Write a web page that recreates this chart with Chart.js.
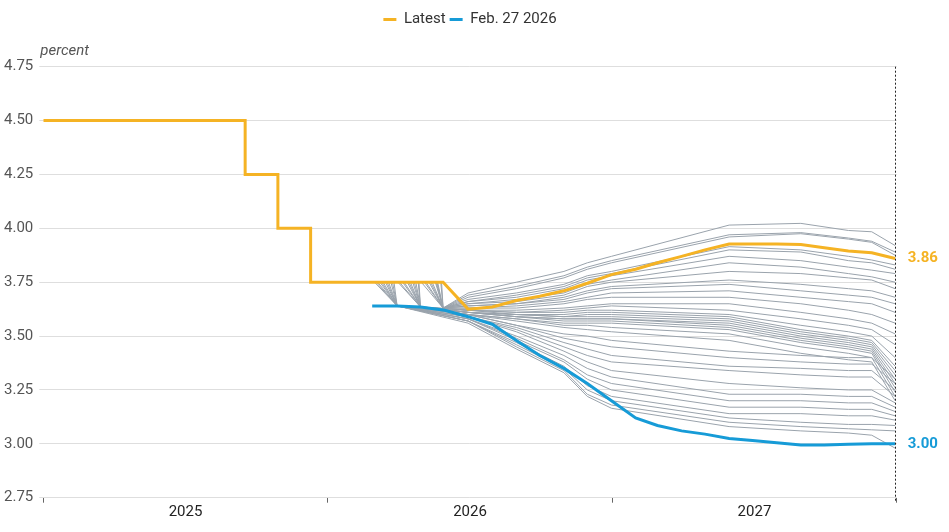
<!DOCTYPE html>
<html lang="en">
<head>
  <meta charset="UTF-8">
  <title>Fed funds rate: latest path vs. earlier market forecasts</title>
  <style>
    html, body { margin: 0; padding: 0; background: #ffffff; }
    .chart-box { position: relative; width: 949px; height: 532px; }
  </style>
</head>
<body>
  <div class="chart-box"><canvas id="rateChart"></canvas></div>

  <script src="https://cdn.jsdelivr.net/npm/chart.js"></script>
  <script>
    // Policy rate (upper bound) decisions
    const rateDates = ['2025-01-01', '2025-09-17', '2025-10-29', '2025-12-10'];
    const rateValues = [4.50, 4.25, 4.00, 3.75];
    const latestAsOf = '2026-05-29';

    // Month-end forecast dates
    const monthEnds = [
      '2026-03-31', '2026-04-30', '2026-05-31', '2026-06-30', '2026-07-31', '2026-08-31',
      '2026-09-30', '2026-10-31', '2026-11-30', '2026-12-31', '2027-01-31', '2027-02-28',
      '2027-03-31', '2027-04-30', '2027-05-31', '2027-06-30', '2027-07-31', '2027-08-31',
      '2027-09-30', '2027-10-31', '2027-11-30', '2027-12-30'
    ];

    // "Latest" forecast, Jun 2026 - Dec 2027
    const latestForecast = [3.625, 3.635, 3.665, 3.685, 3.71, 3.745, 3.785,
      3.81, 3.84, 3.87, 3.90, 3.927, 3.927, 3.927, 3.925, 3.91, 3.895, 3.887, 3.86];

    // Feb. 27 2026 forecast
    const febStart = '2026-02-27';
    const febValues = [3.64, 3.64, 3.635, 3.62, 3.59, 3.555, 3.48, 3.41, 3.35, 3.28, 3.20,
      3.12, 3.085, 3.06, 3.045, 3.025, 3.015, 3.005, 2.995, 2.995, 2.998, 3.00, 3.00];

    // Daily forecasts in between (grey)
    const greyStarts = [
      '2026-05-27', '2026-05-26', '2026-05-22', '2026-05-21', '2026-05-20', '2026-05-19',
      '2026-05-15', '2026-05-13', '2026-05-11', '2026-05-07', '2026-05-05', '2026-05-01',
      '2026-04-28', '2026-04-27', '2026-04-24', '2026-04-22', '2026-04-20', '2026-04-17',
      '2026-04-15', '2026-04-13', '2026-04-09', '2026-04-07', '2026-04-03', '2026-04-01',
      '2026-03-27', '2026-03-25', '2026-03-23', '2026-03-20', '2026-03-18', '2026-03-16',
      '2026-03-13', '2026-03-11', '2026-03-09', '2026-03-06', '2026-03-04', '2026-03-02'
    ];
    const greyFirst = ['2026-05-29', '2026-04-30', '2026-03-31']; // by start month: May, Apr, Mar
    const greyDates = ['2026-06-30', '2026-08-31', '2026-10-31', '2026-11-30', '2026-12-31',
      '2027-05-31', '2027-08-31', '2027-10-31', '2027-11-30', '2027-12-30'];
    const greyValues = [
      [3.63, 3.70, 3.75, 3.80, 3.84, 3.87, 4.015, 4.023, 3.99, 3.984, 3.92],
      [3.63, 3.69, 3.73, 3.78, 3.82, 3.85, 3.97, 3.98, 3.955, 3.94, 3.89],
      [3.63, 3.68, 3.72, 3.77, 3.81, 3.84, 3.96, 3.975, 3.95, 3.935, 3.875],
      [3.63, 3.67, 3.70, 3.74, 3.78, 3.80, 3.915, 3.90, 3.87, 3.853, 3.83],
      [3.63, 3.66, 3.69, 3.73, 3.77, 3.79, 3.90, 3.89, 3.85, 3.84, 3.81],
      [3.63, 3.66, 3.68, 3.72, 3.76, 3.78, 3.87, 3.85, 3.82, 3.806, 3.79],
      [3.63, 3.65, 3.67, 3.70, 3.74, 3.76, 3.84, 3.82, 3.79, 3.775, 3.75],
      [3.63, 3.65, 3.66, 3.69, 3.73, 3.75, 3.80, 3.79, 3.77, 3.76, 3.72],
      [3.63, 3.64, 3.65, 3.68, 3.71, 3.73, 3.76, 3.74, 3.72, 3.71, 3.68],
      [3.63, 3.64, 3.65, 3.67, 3.70, 3.72, 3.74, 3.71, 3.69, 3.68, 3.65],
      [3.63, 3.63, 3.64, 3.66, 3.68, 3.70, 3.71, 3.68, 3.66, 3.65, 3.61],
      [3.63, 3.63, 3.63, 3.65, 3.67, 3.68, 3.68, 3.65, 3.62, 3.60, 3.56],
      [3.635, 3.62, 3.62, 3.63, 3.64, 3.65, 3.65, 3.61, 3.58, 3.56, 3.51],
      [3.635, 3.62, 3.61, 3.62, 3.63, 3.64, 3.62, 3.58, 3.55, 3.53, 3.46],
      [3.635, 3.62, 3.61, 3.61, 3.62, 3.62, 3.60, 3.55, 3.52, 3.50, 3.40],
      [3.635, 3.62, 3.60, 3.60, 3.61, 3.61, 3.59, 3.53, 3.50, 3.48, 3.36],
      [3.635, 3.61, 3.60, 3.59, 3.60, 3.60, 3.58, 3.52, 3.49, 3.47, 3.34],
      [3.635, 3.61, 3.60, 3.59, 3.59, 3.59, 3.57, 3.51, 3.48, 3.46, 3.32],
      [3.635, 3.61, 3.59, 3.58, 3.58, 3.58, 3.56, 3.50, 3.47, 3.45, 3.30],
      [3.635, 3.61, 3.59, 3.58, 3.58, 3.58, 3.55, 3.49, 3.46, 3.44, 3.28],
      [3.635, 3.61, 3.59, 3.57, 3.57, 3.57, 3.54, 3.48, 3.45, 3.43, 3.26],
      [3.635, 3.60, 3.58, 3.56, 3.56, 3.56, 3.53, 3.47, 3.44, 3.42, 3.24],
      [3.635, 3.60, 3.58, 3.55, 3.55, 3.54, 3.51, 3.45, 3.42, 3.40, 3.22],
      [3.635, 3.60, 3.57, 3.54, 3.53, 3.52, 3.48, 3.42, 3.39, 3.38, 3.20],
      [3.64, 3.60, 3.55, 3.51, 3.50, 3.48, 3.43, 3.41, 3.40, 3.40, 3.30],
      [3.64, 3.60, 3.55, 3.49, 3.47, 3.45, 3.40, 3.38, 3.37, 3.37, 3.28],
      [3.64, 3.59, 3.54, 3.47, 3.44, 3.41, 3.36, 3.35, 3.34, 3.34, 3.25],
      [3.64, 3.59, 3.53, 3.45, 3.41, 3.38, 3.34, 3.32, 3.31, 3.31, 3.22],
      [3.64, 3.59, 3.52, 3.43, 3.38, 3.34, 3.28, 3.26, 3.25, 3.25, 3.19],
      [3.64, 3.58, 3.50, 3.41, 3.35, 3.31, 3.23, 3.23, 3.22, 3.22, 3.17],
      [3.64, 3.58, 3.49, 3.39, 3.32, 3.28, 3.20, 3.20, 3.19, 3.19, 3.15],
      [3.64, 3.58, 3.48, 3.38, 3.30, 3.25, 3.17, 3.17, 3.16, 3.16, 3.13],
      [3.64, 3.57, 3.47, 3.36, 3.27, 3.22, 3.14, 3.14, 3.13, 3.13, 3.11],
      [3.64, 3.57, 3.46, 3.35, 3.25, 3.20, 3.12, 3.10, 3.09, 3.09, 3.085],
      [3.64, 3.57, 3.45, 3.34, 3.23, 3.18, 3.10, 3.08, 3.07, 3.065, 3.06],
      [3.64, 3.56, 3.44, 3.33, 3.22, 3.165, 3.08, 3.06, 3.05, 3.04, 2.98]
    ];

    // Axis labels
    const yearLabels = ['2025', '2026', '2027'];
    const yMin = 2.75, yMax = 4.75, yStep = 0.25;

    const YELLOW = '#f5b324';
    const BLUE = '#169bd7';
    const GREY = '#9aa3ac';
    const FONT = 'Roboto, "Liberation Sans", Arial, sans-serif';

    // date string -> fractional year
    function toYear(s) {
      const [y, m, d] = s.split('-').map(Number);
      const t0 = Date.UTC(y, 0, 1), t1 = Date.UTC(y + 1, 0, 1);
      return y + (Date.UTC(y, m - 1, d) - t0) / (t1 - t0);
    }

    // Latest: stepped history then forecast
    const latestPts = [];
    rateDates.forEach((d, i) => {
      if (i > 0) latestPts.push({ x: toYear(d), y: rateValues[i - 1] });
      latestPts.push({ x: toYear(d), y: rateValues[i] });
    });
    const currentRate = rateValues[rateValues.length - 1];
    latestPts.push({ x: toYear(latestAsOf), y: currentRate });
    const latestDates = monthEnds.slice(monthEnds.length - latestForecast.length);
    latestDates.forEach((d, i) => latestPts.push({ x: toYear(d), y: latestForecast[i] }));

    const febPts = [febStart, ...monthEnds].map((d, i) => ({ x: toYear(d), y: febValues[i] }));

    const greySets = greyStarts.map((start, i) => {
      const month = Number(start.slice(5, 7));
      const first = greyFirst[5 - month];
      const vals = greyValues[i];
      const pts = [{ x: toYear(start), y: currentRate }, { x: toYear(first), y: vals[0] }];
      greyDates.forEach((d, j) => pts.push({ x: toYear(d), y: vals[j + 1] }));
      return {
        label: 'forecast ' + start,
        data: pts,
        borderColor: GREY,
        borderWidth: 1,
        pointRadius: 0,
        order: 2
      };
    });

    const xTicks = [];
    yearLabels.forEach(y => { xTicks.push(Number(y), Number(y) + 0.5); });
    xTicks.push(Number(yearLabels[yearLabels.length - 1]) + 1);

    const extras = {
      id: 'extras',
      beforeInit(chart) {
        if (!chart.legend) return;
        const fit = chart.legend.fit;
        chart.legend.fit = function () {
          fit.call(this);
          this.height = 58.7;
        };
      },
      afterDatasetsDraw(chart) {
        const { ctx, chartArea, scales: { x, y } } = chart;
        const lastX = Math.round(x.getPixelForValue(toYear(monthEnds[monthEnds.length - 1]))) + 0.5;
        ctx.save();
        ctx.strokeStyle = '#222';
        ctx.lineWidth = 1;
        ctx.setLineDash([2, 2]);
        ctx.beginPath();
        ctx.moveTo(lastX, chartArea.top);
        ctx.lineTo(lastX, chartArea.bottom + 4);
        ctx.stroke();
        ctx.setLineDash([]);

        const lastLatest = latestForecast[latestForecast.length - 1];
        const lastFeb = febValues[febValues.length - 1];
        ctx.font = 'bold 15px ' + FONT;
        ctx.textAlign = 'left';
        ctx.textBaseline = 'middle';
        ctx.fillStyle = YELLOW;
        ctx.fillText(lastLatest.toFixed(2), chartArea.right + 11, y.getPixelForValue(lastLatest));
        ctx.fillStyle = BLUE;
        ctx.fillText(lastFeb.toFixed(2), chartArea.right + 11, y.getPixelForValue(lastFeb));

        ctx.font = 'italic 15px ' + FONT;
        ctx.fillStyle = '#555';
        ctx.textBaseline = 'alphabetic';
        ctx.fillText('percent', chartArea.left - 3, chartArea.top - 12);
        ctx.restore();
      }
    };

    new Chart(document.getElementById('rateChart'), {
      type: 'line',
      data: {
        datasets: [
          {
            label: 'Latest',
            data: latestPts,
            borderColor: YELLOW,
            backgroundColor: YELLOW,
            borderWidth: 3,
            pointRadius: 0,
            order: 0
          },
          {
            label: 'Feb. 27 2026',
            data: febPts,
            borderColor: BLUE,
            backgroundColor: BLUE,
            borderWidth: 3,
            pointRadius: 0,
            order: 1
          },
          ...greySets
        ]
      },
      options: {
        responsive: true,
        maintainAspectRatio: false,
        animation: false,
        parsing: false,
        layout: { padding: { top: 8, left: 4, right: 52.3, bottom: 0 } },
        plugins: {
          legend: {
            position: 'top',
            fullSize: false,
            labels: {
              boxWidth: 13,
              boxHeight: 3,
              padding: 4,
              color: '#333',
              font: { family: FONT, size: 15 },
              generateLabels: chart => Chart.defaults.plugins.legend.labels.generateLabels(chart)
                .filter(item => item.datasetIndex < 2)
                .map(item => Object.assign(item, { lineWidth: 0 }))
            }
          },
          tooltip: { enabled: false }
        },
        scales: {
          x: {
            type: 'linear',
            min: xTicks[0],
            max: xTicks[xTicks.length - 1],
            afterBuildTicks: scale => { scale.ticks = xTicks.map(v => ({ value: v })); },
            afterFit: scale => { scale.height = 34.3; },
            border: { display: false },
            grid: {
              drawOnChartArea: false,
              drawTicks: true,
              tickLength: 5,
              tickColor: c => (c.tick && Number.isInteger(c.tick.value)) ? '#666' : 'rgba(0,0,0,0)'
            },
            ticks: {
              autoSkip: false,
              maxRotation: 0,
              padding: 1,
              color: '#222',
              font: { family: FONT, size: 15 },
              callback: v => Number.isInteger(v) ? '' : String(Math.floor(v))
            }
          },
          y: {
            min: yMin,
            max: yMax,
            afterFit: scale => { scale.width = 39.3; },
            border: { display: false },
            grid: { color: '#dedede', tickLength: 4 },
            ticks: {
              stepSize: yStep,
              crossAlign: 'far',
              color: '#555',
              font: { family: FONT, size: 15 },
              callback: v => v.toFixed(2)
            }
          }
        }
      },
      plugins: [extras]
    });
  </script>
</body>
</html>
